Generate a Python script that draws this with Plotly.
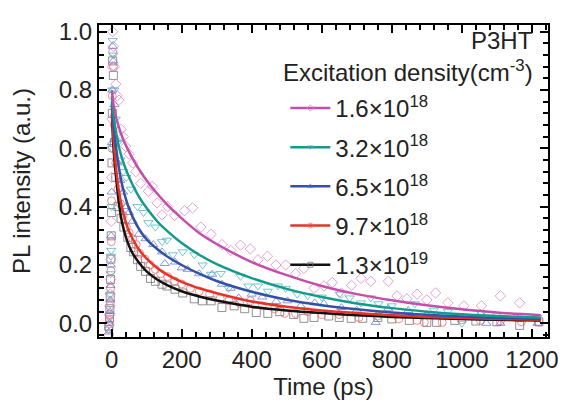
import plotly.graph_objects as go

# measured PL decays (time in ps, normalised intensity)
t_pink = [-9, -7, -6, -5, -4, -3, -2, -1, 0, 1, 2, 3, 5, 8, 12, 16, 21, 27, 33, 40, 50, 60, 69, 83, 105, 116, 130, 144,
          160, 180, 208, 231, 255, 284, 315, 340, 368, 396, 418, 445, 469, 497, 525, 549, 578, 606, 630, 656, 685, 712,
          740, 790, 815, 843, 872, 900, 925, 960, 1006, 1056, 1110, 1165]
y_pink = [-0.04, 0.0, 0.03, 0.06, 0.1, 0.15, 0.22, 0.35, 0.5, 0.7, 0.88, 1.0, 0.95, 0.88, 0.82, 0.78, 0.765, 0.665,
          0.64, 0.607, 0.58, 0.55, 0.52, 0.48, 0.453, 0.47, 0.413, 0.372, 0.40, 0.37, 0.386, 0.396, 0.33, 0.305, 0.27,
          0.25, 0.268, 0.255, 0.218, 0.23, 0.2, 0.2, 0.17, 0.188, 0.12, 0.128, 0.14, 0.104, 0.13, 0.154, 0.144, 0.144,
          0.094, 0.084, 0.1, 0.08, 0.104, 0.07, 0.06, 0.06, 0.094, 0.07]

t_teal = [-8, -6, -5, -4, -3, -2, -1, 0, 1, 2, 3, 5, 8, 12, 18, 25, 33, 42, 55, 74, 91, 105, 125, 144, 158, 175, 203,
          236, 260, 284, 312, 334, 368, 390, 418, 446, 475, 497, 530, 560, 600, 651, 680, 712, 740, 762, 800, 866, 920,
          960, 1000, 1056, 1100, 1160, 1216]
y_teal = [-0.02, 0.02, 0.05, 0.1, 0.17, 0.23, 0.25, 0.4, 0.6, 0.8, 0.97, 0.92, 0.8, 0.7, 0.62, 0.56, 0.52, 0.5, 0.46,
          0.40, 0.38, 0.345, 0.33, 0.28, 0.285, 0.235, 0.245, 0.235, 0.2, 0.168, 0.171, 0.12, 0.161, 0.128, 0.128, 0.11,
          0.128, 0.12, 0.1, 0.095, 0.09, 0.1, 0.087, 0.07, 0.087, 0.067, 0.06, 0.067, 0.045, 0.04, 0.0, 0.034, 0.03,
          0.025, 0.02]

t_blue = [-8, -6, -5, -4, -3, -2, -1, 0, 1, 2, 3, 5, 8, 12, 18, 25, 33, 42, 50, 60, 77, 97, 119, 144, 152, 181, 200, 217,
          250, 287, 315, 340, 363, 400, 430, 470, 502, 540, 580, 606, 656, 700, 754, 790, 847, 900, 950, 1000, 1053,
          1070, 1110, 1160, 1216]
y_blue = [-0.03, 0.0, 0.04, 0.08, 0.13, 0.2, 0.3, 0.45, 0.62, 0.8, 0.95, 0.9, 0.75, 0.63, 0.55, 0.49, 0.45, 0.40, 0.38,
          0.35, 0.305, 0.29, 0.27, 0.245, 0.205, 0.21, 0.19, 0.185, 0.17, 0.168, 0.134, 0.12, 0.087, 0.1, 0.09, 0.075,
          0.077, 0.06, 0.07, 0.067, 0.054, 0.045, 0.003, 0.05, 0.044, 0.03, 0.025, 0.02, 0.034, 0.0, 0.0, 0.015, 0.0]

t_red = [-8, -6, -5, -4, -3, -2, -1, 0, 1, 2, 3, 5, 8, 12, 18, 25, 33, 42, 50, 60, 70, 80, 95, 110, 125, 140, 160, 180,
         200, 225, 250, 280, 310, 335, 365, 396, 430, 465, 494, 525, 560, 600, 650, 706, 760, 820, 872, 893, 944, 1000,
         1053, 1110, 1170, 1220]
y_red = [-0.02, 0.01, 0.03, 0.07, 0.12, 0.18, 0.28, 0.42, 0.6, 0.78, 0.93, 0.88, 0.68, 0.55, 0.46, 0.41, 0.37, 0.33,
         0.31, 0.29, 0.27, 0.24, 0.22, 0.2, 0.185, 0.17, 0.16, 0.145, 0.135, 0.12, 0.11, 0.1, 0.085, 0.077, 0.07, 0.077,
         0.06, 0.05, 0.034, 0.034, 0.04, 0.03, 0.03, 0.02, 0.025, 0.015, 0.01, 0.003, 0.003, 0.012, 0.01, 0.008, 0.005,
         0.004]

t_black = [-8, -6, -5, -4, -3, -2, -1, 0, 1, 2, 3, 5, 8, 12, 18, 27, 35, 46, 55, 63, 74, 83, 97, 111, 125, 144, 158, 181,
           203, 236, 259, 284, 315, 350, 380, 413, 446, 480, 520, 549, 578, 620, 650, 684, 717, 760, 800, 850, 900, 928,
           980, 1040, 1100, 1165, 1220]
y_black = [-0.01, 0.02, 0.05, 0.09, 0.15, 0.22, 0.3, 0.38, 0.55, 0.72, 0.9, 0.85, 0.62, 0.5, 0.40, 0.36, 0.33, 0.295,
           0.26, 0.245, 0.218, 0.195, 0.178, 0.154, 0.144, 0.134, 0.128, 0.117, 0.104, 0.084, 0.077, 0.077, 0.054, 0.06,
           0.05, 0.037, 0.034, 0.04, 0.03, 0.017, 0.02, 0.025, 0.02, 0.017, 0.017, 0.02, 0.015, 0.01, 0.003, 0.003, 0.01,
           0.008, 0.005, -0.007, 0.005]

# fitted curves
t_fit = [1, 4, 8, 12, 20, 30, 45, 60, 80, 100, 130, 160, 200, 250, 300, 400, 500, 600, 700, 800, 900, 1000, 1100, 1225]
fit_pink = [0.80, 0.76, 0.735, 0.71, 0.675, 0.64, 0.60, 0.565, 0.525, 0.49, 0.445, 0.405, 0.36, 0.31, 0.272, 0.21,
            0.165, 0.128, 0.1, 0.079, 0.062, 0.048, 0.037, 0.028]
fit_teal = [0.78, 0.73, 0.69, 0.66, 0.61, 0.565, 0.515, 0.475, 0.43, 0.395, 0.35, 0.315, 0.275, 0.235, 0.203, 0.155,
            0.118, 0.09, 0.068, 0.052, 0.04, 0.031, 0.025, 0.02]
fit_blue = [0.76, 0.70, 0.65, 0.61, 0.54, 0.475, 0.41, 0.365, 0.32, 0.288, 0.255, 0.228, 0.2, 0.17, 0.145, 0.108,
            0.081, 0.062, 0.048, 0.037, 0.029, 0.023, 0.019, 0.015]
fit_red = [0.74, 0.66, 0.59, 0.54, 0.46, 0.395, 0.33, 0.29, 0.25, 0.222, 0.19, 0.166, 0.142, 0.12, 0.103, 0.075, 0.057,
           0.044, 0.035, 0.028, 0.022, 0.018, 0.015, 0.012]
fit_black = [0.72, 0.63, 0.56, 0.51, 0.42, 0.345, 0.28, 0.24, 0.205, 0.178, 0.15, 0.13, 0.11, 0.092, 0.078, 0.057,
             0.044, 0.035, 0.028, 0.022, 0.018, 0.015, 0.012, 0.01]

labels = ["1.6×10<sup>18</sup>", "3.2×10<sup>18</sup>", "6.5×10<sup>18</sup>", "9.7×10<sup>18</sup>",
          "1.3×10<sup>19</sup>"]

series = [
    (t_pink, y_pink, fit_pink, "#C44FAA", "rgba(222,125,198,0.75)", "diamond-open"),
    (t_teal, y_teal, fit_teal, "#139A8C", "rgba(70,180,190,0.75)", "triangle-down-open"),
    (t_blue, y_blue, fit_blue, "#3451A6", "rgba(100,120,210,0.75)", "triangle-up-open"),
    (t_red, y_red, fit_red, "#E63329", "rgba(240,100,100,0.75)", "circle-open"),
    (t_black, y_black, fit_black, "#111111", "rgba(110,110,110,0.75)", "square-open"),
]

fig = go.Figure()

# markers first (black at the bottom)
for t, y, f, lc, mc, sym in reversed(series):
    fig.add_trace(go.Scatter(x=t, y=y, mode="markers", showlegend=False,
                             marker=dict(symbol=sym, size=8, color=mc, line=dict(width=1, color=mc))))

for t, y, f, lc, mc, sym in reversed(series):
    fig.add_trace(go.Scatter(x=t_fit, y=f, mode="lines", showlegend=False,
                             line=dict(color=lc, width=2.5, shape="spline", smoothing=0.8)))

# legend entries
for (t, y, f, lc, mc, sym), lab in zip(series, labels):
    fig.add_trace(go.Scatter(x=[None], y=[None], mode="lines+markers", name=lab, legendgroup=lab,
                             line=dict(color=lc, width=2.5),
                             marker=dict(symbol=sym, size=5, color=mc, line=dict(width=1, color=mc))))

axis_common = dict(showline=True, linecolor="black", linewidth=2, mirror="allticks", ticks="inside",
                   ticklen=8, tickwidth=2, tickcolor="black", showgrid=False, zeroline=False,
                   tickfont=dict(size=24, color="#222"))

fig.update_xaxes(range=[-36, 1246], tick0=0, dtick=200,
                 minor=dict(dtick=40, ticks="inside", ticklen=5, tickwidth=1.5, tickcolor="black"),
                 title=dict(text="Time (ps)", font=dict(size=24, color="#222"), standoff=4), **axis_common)
fig.update_yaxes(range=[-0.047, 1.023], tick0=0, dtick=0.2, tickformat=".1f",
                 minor=dict(dtick=0.04, ticks="inside", ticklen=5, tickwidth=1.5, tickcolor="black"),
                 title=dict(text="PL intensity (a.u.)", font=dict(size=24, color="#222"), standoff=24),
                 **axis_common)

fig.add_annotation(x=0.97, y=0.95, xref="paper", yref="paper", text="P3HT", showarrow=False,
                   xanchor="right", yanchor="middle", font=dict(size=24, color="#222"))
fig.add_annotation(x=0.97, y=0.852, xref="paper", yref="paper", text="Excitation density(cm<sup>-3</sup>)",
                   showarrow=False, xanchor="right", yanchor="middle", font=dict(size=24, color="#222"))

# page body has an 8px margin, so the figure is sized to fit what is left of the window
fig.update_layout(
    width=560, height=397,
    margin=dict(l=90, r=12, t=10, b=68),
    paper_bgcolor="white", plot_bgcolor="white",
    font=dict(family="Liberation Sans, Arial, sans-serif", color="#222"),
    legend=dict(x=0.415, y=0.805, xanchor="left", yanchor="top", bgcolor="rgba(0,0,0,0)",
                font=dict(size=24, color="#222"), traceorder="grouped", tracegroupgap=5, itemwidth=40),
)

fig.write_html("out.html")
